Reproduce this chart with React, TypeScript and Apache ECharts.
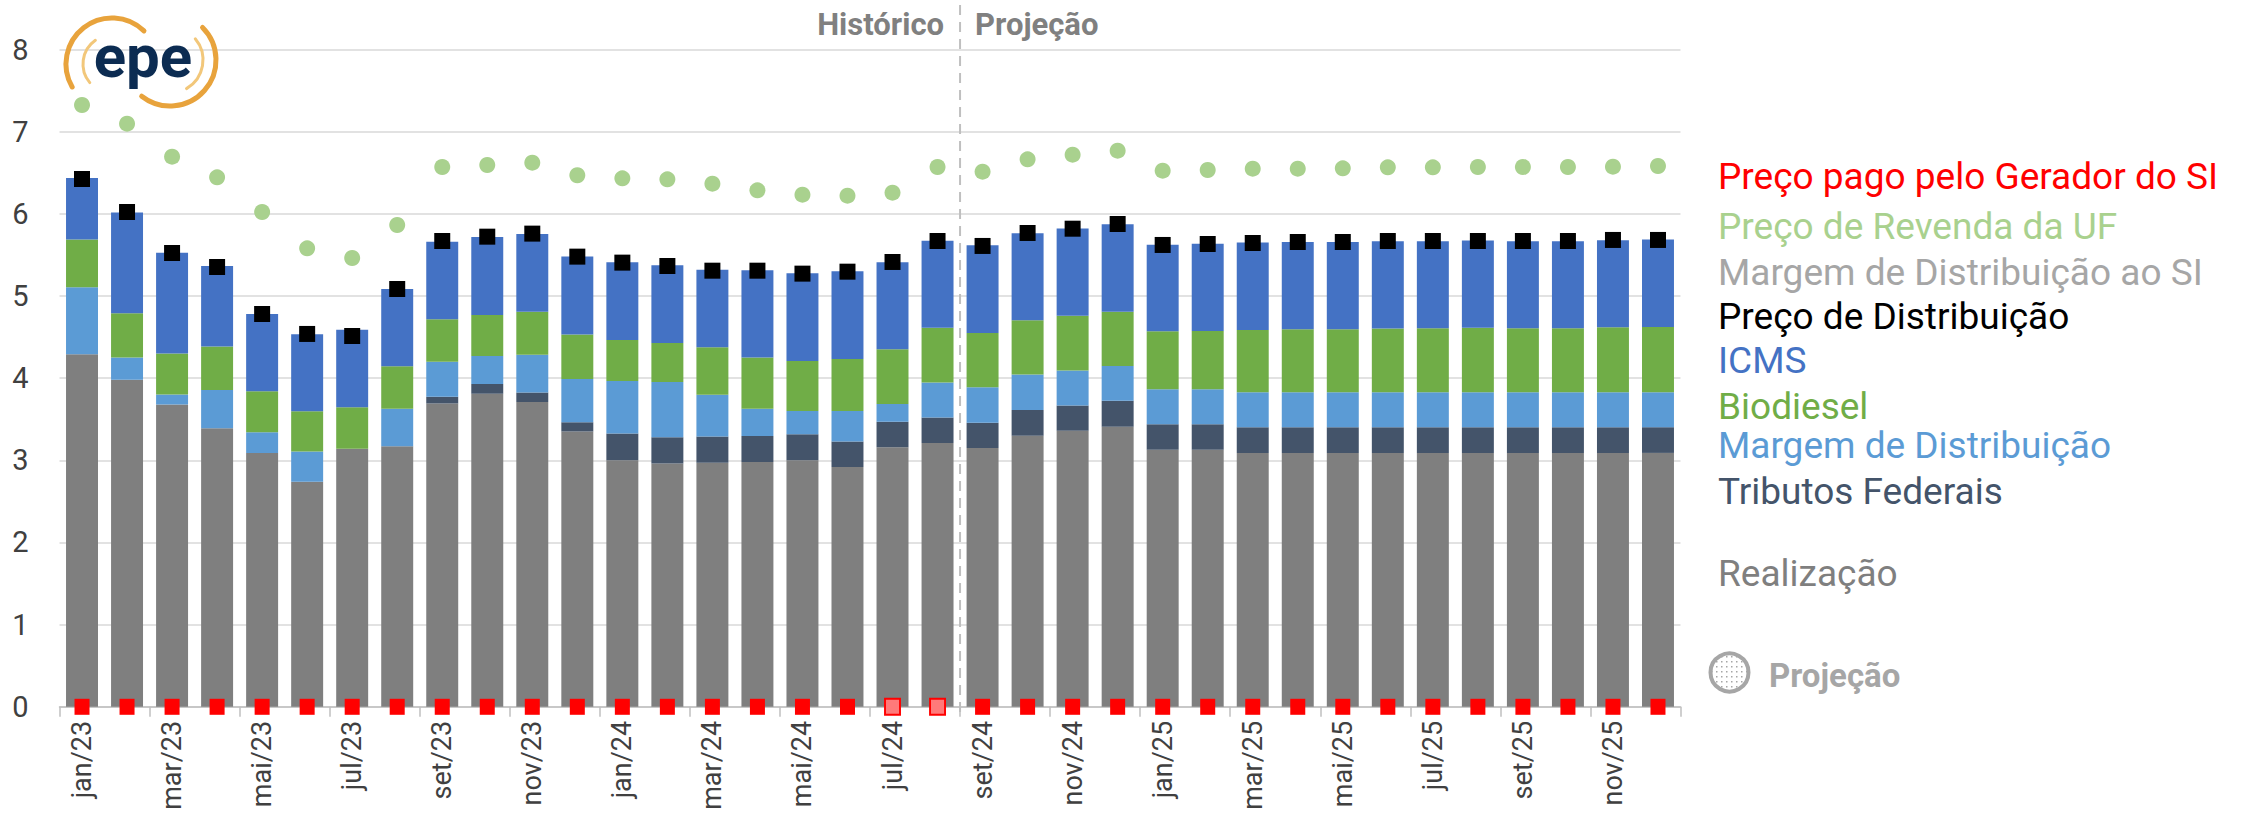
import React, { useEffect, useRef } from "react";
import * as echarts from "echarts";

const months = [
  "jan/23", "fev/23", "mar/23", "abr/23", "mai/23", "jun/23", "jul/23", "ago/23", "set/23", "out/23", "nov/23", "dez/23",
  "jan/24", "fev/24", "mar/24", "abr/24", "mai/24", "jun/24", "jul/24", "ago/24", "set/24", "out/24", "nov/24", "dez/24",
  "jan/25", "fev/25", "mar/25", "abr/25", "mai/25", "jun/25", "jul/25", "ago/25", "set/25", "out/25", "nov/25", "dez/25",
];

const realizacao = [
  4.29, 3.98, 3.68, 3.39, 3.09, 2.74, 3.14, 3.17, 3.69, 3.81, 3.71, 3.35,
  3.0, 2.96, 2.97, 2.98, 3.0, 2.92, 3.16, 3.21, 3.15, 3.3, 3.36, 3.41,
  3.13, 3.13, 3.09, 3.09, 3.09, 3.09, 3.09, 3.09, 3.09, 3.09, 3.09, 3.09,
];

const tributosFederais = [
  0, 0, 0, 0, 0, 0, 0, 0, 0.085, 0.118, 0.114, 0.113,
  0.325, 0.321, 0.32, 0.316, 0.316, 0.308, 0.309, 0.312, 0.308, 0.313, 0.308, 0.316,
  0.308, 0.308, 0.313, 0.313, 0.313, 0.313, 0.313, 0.313, 0.313, 0.313, 0.313, 0.313,
];

const margemDistribuicao = [
  0.815, 0.27, 0.12, 0.467, 0.252, 0.366, -0.04, 0.459, 0.426, 0.341, 0.462, 0.528,
  0.641, 0.673, 0.507, 0.333, 0.284, 0.373, 0.215, 0.426, 0.43, 0.43, 0.426, 0.422,
  0.426, 0.426, 0.426, 0.426, 0.426, 0.426, 0.426, 0.426, 0.426, 0.426, 0.426, 0.426,
];

const biodiesel = [
  0.581, 0.54, 0.5, 0.527, 0.499, 0.49, 0.507, 0.515, 0.515, 0.499, 0.523, 0.539,
  0.499, 0.475, 0.58, 0.621, 0.609, 0.633, 0.669, 0.666, 0.662, 0.661, 0.666, 0.661,
  0.706, 0.71, 0.758, 0.766, 0.766, 0.774, 0.778, 0.783, 0.778, 0.778, 0.791, 0.795,
];

const icms = [
  0.75, 1.225, 1.225, 0.982, 0.941, 0.938, 0.941, 0.941, 0.945, 0.949, 0.946, 0.95,
  0.945, 0.945, 0.941, 1.062, 1.067, 1.067, 1.059, 1.058, 1.067, 1.059, 1.062, 1.063,
  1.055, 1.063, 1.063, 1.063, 1.063, 1.063, 1.059, 1.062, 1.059, 1.059, 1.058, 1.063,
];

const precoDistribuicao = [
  6.424, 6.022, 5.523, 5.353, 4.781, 4.538, 4.513, 5.085, 5.669, 5.722, 5.759, 5.479,
  5.406, 5.365, 5.308, 5.308, 5.272, 5.296, 5.414, 5.669, 5.609, 5.767, 5.819, 5.876,
  5.621, 5.633, 5.645, 5.657, 5.657, 5.669, 5.669, 5.669, 5.669, 5.669, 5.682, 5.682,
];

const precoRevendaUF = [
  7.325, 7.097, 6.696, 6.444, 6.022, 5.58, 5.462, 5.864, 6.57, 6.594, 6.623, 6.469,
  6.432, 6.42, 6.367, 6.286, 6.233, 6.221, 6.258, 6.57, 6.513, 6.663, 6.72, 6.769,
  6.525, 6.533, 6.55, 6.55, 6.554, 6.566, 6.566, 6.57, 6.57, 6.57, 6.574, 6.582,
];

const precoGeradorSI = [
  0, 0, 0, 0, 0, 0, 0, 0, 0, 0, 0, 0,
  0, 0, 0, 0, 0, 0, 0, 0, 0, 0, 0, 0,
  0, 0, 0, 0, 0, 0, 0, 0, 0, 0, 0, 0,
];

const projectedSI = ["jul/24", "ago/24"];
const lastHistorico = "ago/24";
const firstProjecao = "set/24";

const legendRows = [
  { text: "Preço pago pelo Gerador do SI", color: "#FF0000", y: 176 },
  { text: "Preço de Revenda da UF", color: "#A9D18E", y: 226 },
  { text: "Margem de Distribuição ao SI", color: "#A6A6A6", y: 272 },
  { text: "Preço de Distribuição", color: "#000000", y: 316 },
  { text: "ICMS", color: "#4472C4", y: 360 },
  { text: "Biodiesel", color: "#70AD47", y: 406 },
  { text: "Margem de Distribuição", color: "#5B9BD5", y: 445 },
  { text: "Tributos Federais", color: "#44546A", y: 491 },
  { text: "Realização", color: "#7F7F7F", y: 573 },
];

const FONT = "Roboto";

function makePattern(bg: string, dot: string, size: number, dotSize: number) {
  const c = document.createElement("canvas");
  c.width = size;
  c.height = size;
  const ctx = c.getContext("2d");
  if (ctx) {
    ctx.fillStyle = bg;
    ctx.fillRect(0, 0, size, size);
    ctx.fillStyle = dot;
    ctx.fillRect(1, 1, dotSize, dotSize);
  }
  return { image: c, repeat: "repeat", imageWidth: size, imageHeight: size } as any;
}

const deg = (d: number) => (d * Math.PI) / 180;

export default function App() {
  const ref = useRef<HTMLDivElement>(null);

  useEffect(() => {
    if (!ref.current) return;
    const chart = echarts.init(ref.current, undefined, { renderer: "svg" });

    const grayDots = makePattern("#FFFFFF", "#A6A6A6", 5, 1.5);

    const barCommon = {
      type: "bar",
      stack: "total",
      barCategoryGap: "29%",
      emphasis: { disabled: true },
    };

    const siData = precoGeradorSI.map((v, i) =>
      projectedSI.includes(months[i])
        ? {
            value: v,
            itemStyle: { color: "#FF7A7A", borderColor: "#FF0000", borderWidth: 2 },
          }
        : v
    );

    chart.setOption({
      animation: false,
      backgroundColor: "#FFFFFF",
      grid: { left: 59.5, right: 568.5, top: 49.5, bottom: 114.2, containLabel: false },
      xAxis: {
        type: "category",
        data: months,
        boundaryGap: true,
        axisLine: { lineStyle: { color: "#BFBFBF", width: 1.5 } },
        axisTick: { show: true, interval: 1, length: 10, lineStyle: { color: "#BFBFBF", width: 1.5 } },
        axisLabel: {
          interval: 1,
          rotate: 90,
          margin: 14,
          color: "#404040",
          fontSize: 27,
          fontFamily: FONT,
        },
      },
      yAxis: {
        type: "value",
        min: 0,
        max: 8,
        interval: 1,
        axisLine: { show: false },
        axisTick: { show: false },
        splitLine: { lineStyle: { color: "#D9D9D9", width: 1.5 } },
        axisLabel: { margin: 31, color: "#404040", fontSize: 29, fontFamily: FONT },
      },
      series: [
        { ...barCommon, name: "Realização", data: realizacao, itemStyle: { color: "#7F7F7F" } },
        { ...barCommon, name: "Tributos Federais", data: tributosFederais, itemStyle: { color: "#44546A" } },
        { ...barCommon, name: "Margem de Distribuição", data: margemDistribuicao, itemStyle: { color: "#5B9BD5" } },
        { ...barCommon, name: "Biodiesel", data: biodiesel, itemStyle: { color: "#70AD47" } },
        { ...barCommon, name: "ICMS", data: icms, itemStyle: { color: "#4472C4" } },
        {
          type: "scatter",
          name: "Preço de Revenda da UF",
          data: precoRevendaUF,
          symbol: "circle",
          symbolSize: 16,
          itemStyle: { color: "#A9D18E", opacity: 1 },
          emphasis: { disabled: true },
          z: 3,
        },
        {
          type: "scatter",
          name: "Preço de Distribuição",
          data: precoDistribuicao,
          symbol: "rect",
          symbolSize: 16,
          itemStyle: { color: "#000000", opacity: 1 },
          emphasis: { disabled: true },
          z: 4,
        },
        {
          type: "scatter",
          name: "Preço pago pelo Gerador do SI",
          data: siData,
          symbol: "rect",
          symbolSize: [15, 16],
          itemStyle: { color: "#FF0000", opacity: 1 },
          emphasis: { disabled: true },
          z: 5,
        },
      ],
    });

    const i1 = months.indexOf(lastHistorico);
    const i2 = months.indexOf(firstProjecao);
    const x1 = chart.convertToPixel({ xAxisIndex: 0 }, i1) as number;
    const x2 = chart.convertToPixel({ xAxisIndex: 0 }, i2) as number;
    const xd = (x1 + x2) / 2;

    const textStyle = (text: string, x: number, y: number, fill: string, size: number, weight: string, align: string) => ({
      text,
      x,
      y,
      fill,
      fontSize: size,
      fontFamily: FONT,
      fontWeight: weight,
      align,
      verticalAlign: "middle",
      textAlign: align,
      textVerticalAlign: "middle",
    });

    const graphics: any[] = [
      {
        type: "line",
        shape: { x1: xd, y1: 5, x2: xd, y2: 716 },
        style: { stroke: "#BFBFBF", lineWidth: 2, lineDash: [10, 7] },
        z: 10,
        silent: true,
      },
      { type: "text", style: textStyle("Histórico", xd - 16, 24, "#808080", 31, "bold", "right"), z: 10 },
      { type: "text", style: textStyle("Projeção", xd + 15, 24, "#808080", 31, "bold", "left"), z: 10 },
      ...legendRows.map((r) => ({
        type: "text",
        style: textStyle(r.text, 1718, r.y, r.color, 37, "normal", "left"),
        z: 10,
      })),
      {
        type: "circle",
        shape: { cx: 1729.5, cy: 672.5, r: 19 },
        style: { fill: grayDots, stroke: "#A6A6A6", lineWidth: 4 },
        z: 10,
      },
      { type: "text", style: textStyle("Projeção", 1769, 675, "#A6A6A6", 33, "bold", "left"), z: 10 },
      // epe logo
      {
        type: "arc",
        shape: { cx: 112, cy: 64, r: 46, startAngle: deg(150), endAngle: deg(314), clockwise: true },
        style: { stroke: "#E8A33C", lineWidth: 5, fill: "none", lineCap: "round" },
        z: 10,
      },
      {
        type: "arc",
        shape: { cx: 170, cy: 60, r: 46, startAngle: deg(-45), endAngle: deg(128), clockwise: true },
        style: { stroke: "#E8A33C", lineWidth: 5, fill: "none", lineCap: "round" },
        z: 10,
      },
      {
        type: "arc",
        shape: { cx: 112, cy: 64, r: 29, startAngle: deg(140), endAngle: deg(235), clockwise: true },
        style: { stroke: "#F2C77A", lineWidth: 3, fill: "none", lineCap: "round" },
        z: 10,
      },
      {
        type: "arc",
        shape: { cx: 170, cy: 60, r: 33, startAngle: deg(-40), endAngle: deg(60), clockwise: true },
        style: { stroke: "#F2C77A", lineWidth: 3, fill: "none", lineCap: "round" },
        z: 10,
      },
      { type: "text", style: textStyle("epe", 143, 56, "#0C2C52", 60, "bold", "center"), z: 11 },
    ];

    chart.setOption({ graphic: graphics });

    return () => {
      chart.dispose();
    };
  }, []);

  return (
    <div
      ref={ref}
      style={{ position: "absolute", left: 0, top: 0, width: 2249, height: 821, background: "#FFFFFF" }}
    />
  );
}
